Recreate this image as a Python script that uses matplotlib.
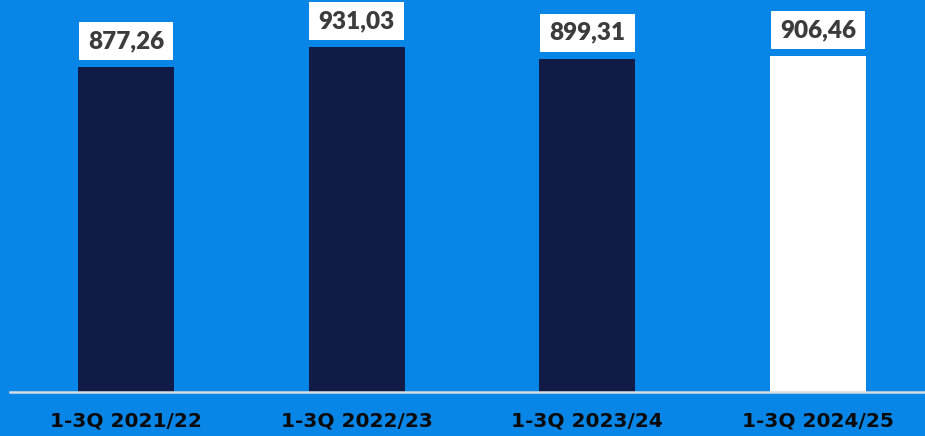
import matplotlib
matplotlib.use('Agg')
from matplotlib import pyplot as plt

categories = ["1-3Q 2021/22", "1-3Q 2022/23", "1-3Q 2023/24", "1-3Q 2024/25"]
values = [877.26, 931.03, 899.31, 906.46]
labels = ["877,26", "931,03", "899,31", "906,46"]
bar_colors = ["#101c47", "#101c47", "#101c47", "#ffffff"]

bg = "#0786e8"
plt.rcParams['font.family'] = ['Lato', 'DejaVu Sans']

fig = plt.figure(figsize=(9.25, 4.36), dpi=100, facecolor=bg)
ax = fig.add_axes([10 / 925, 1 - 392 / 436, 915 / 925, 392 / 436])
ax.set_facecolor(bg)

x = range(len(values))
ax.bar(x, values, width=0.416, color=bar_colors, zorder=2)

# white value boxes above the bars
box_gap = 19
box_h = 103
ax.bar(x, [box_h] * len(values), bottom=[v + box_gap for v in values],
       width=0.41, color="white", zorder=2)
for i, (v, lab) in enumerate(zip(values, labels)):
    ax.text(i, v + box_gap + box_h / 2, lab, ha="center", va="center",
            fontsize=17.5, fontweight="heavy", color="#3c3c3c", zorder=3)

ax.set_xlim(-0.503, 3.464)
ax.set_ylim(0, 1058)

ax.set_xticks(list(x))
ax.set_xticklabels(categories, fontsize=14.5, fontweight="bold",
                   color="#0a0a0a", family="DejaVu Sans")
ax.tick_params(axis="x", length=0, pad=14)
ax.set_yticks([])
for s in ["top", "right", "left"]:
    ax.spines[s].set_visible(False)
ax.spines["bottom"].set_color("#d9dbe3")
ax.spines["bottom"].set_linewidth(1.8)

fig.savefig("out.png", dpi=100, facecolor=bg)
